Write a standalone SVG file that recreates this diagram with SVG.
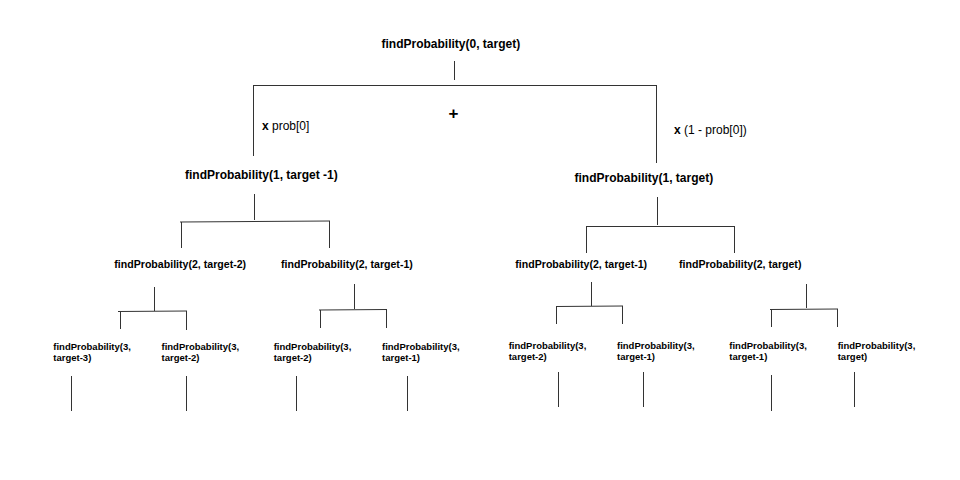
<svg xmlns="http://www.w3.org/2000/svg" width="960" height="480" viewBox="0 0 960 480">
<style>
  .bg { fill: #ffffff; }
  text { font-family: "Liberation Sans", Arial, sans-serif; fill: #000000; }
  .t0 { font-size: 12px; font-weight: bold; }
  .t1 { font-size: 12px; font-weight: bold; }
  .t2 { font-size: 10.6px; font-weight: bold; }
  .t3 { font-size: 9.5px; font-weight: bold; }
  .lbl { font-size: 12px; }
  .b { font-weight: bold; }
  .plus { font-size: 17px; font-weight: bold; }
  #connectors line { stroke: #333333; stroke-width: 1; fill: none; }
</style>
<rect class="bg" x="0" y="0" width="960" height="480"/>

<g id="connectors">
  <!-- root -->
  <line x1="454.5" y1="61" x2="454.5" y2="80"/>
  <line x1="253" y1="85.5" x2="657" y2="85.5"/>
  <line x1="253.5" y1="85.5" x2="253.5" y2="156"/>
  <line x1="656.5" y1="85.5" x2="656.5" y2="163"/>

  <!-- left L1 -->
  <line x1="254.5" y1="194" x2="254.5" y2="220"/>
  <line x1="180" y1="222" x2="330" y2="221"/>
  <line x1="181.5" y1="222" x2="181.5" y2="248"/>
  <line x1="329.5" y1="221" x2="329.5" y2="248"/>

  <!-- right L1 -->
  <line x1="657.5" y1="197" x2="657.5" y2="225"/>
  <line x1="586" y1="226.5" x2="735" y2="226.5"/>
  <line x1="586.5" y1="226.5" x2="586.5" y2="253"/>
  <line x1="734.5" y1="226.5" x2="734.5" y2="253"/>

  <!-- L2 (2, target-2) -->
  <line x1="154.5" y1="287" x2="154.5" y2="311"/>
  <line x1="118" y1="311.5" x2="187" y2="311"/>
  <line x1="120.5" y1="312" x2="120.5" y2="329"/>
  <line x1="186.5" y1="311" x2="186.5" y2="330"/>

  <!-- L2 (2, target-1) left subtree -->
  <line x1="354.5" y1="284" x2="354.5" y2="309"/>
  <line x1="319" y1="310" x2="387" y2="309.5"/>
  <line x1="320.5" y1="310" x2="320.5" y2="328"/>
  <line x1="386.5" y1="309.5" x2="386.5" y2="328"/>

  <!-- L2 (2, target-1) right subtree -->
  <line x1="591.5" y1="282" x2="591.5" y2="306"/>
  <line x1="556" y1="306.5" x2="623" y2="306"/>
  <line x1="556.5" y1="306.5" x2="556.5" y2="324"/>
  <line x1="622.5" y1="306" x2="622.5" y2="324"/>

  <!-- L2 (2, target) -->
  <line x1="806.5" y1="284" x2="806.5" y2="308"/>
  <line x1="770" y1="309.5" x2="838" y2="309"/>
  <line x1="771.5" y1="309.5" x2="771.5" y2="327"/>
  <line x1="837.5" y1="309" x2="837.5" y2="327"/>

  <!-- L3 downward stubs -->
  <line x1="71.5" y1="376" x2="71.5" y2="411"/>
  <line x1="186.5" y1="376" x2="186.5" y2="411"/>
  <line x1="296.5" y1="376" x2="296.5" y2="411"/>
  <line x1="407.5" y1="376" x2="407.5" y2="411"/>
  <line x1="558.5" y1="372" x2="558.5" y2="407"/>
  <line x1="643.5" y1="372" x2="643.5" y2="407"/>
  <line x1="771.5" y1="375" x2="771.5" y2="411"/>
  <line x1="854.5" y1="372" x2="854.5" y2="407"/>
</g>

<g id="labels">
  <text class="plus" x="453.5" y="119" text-anchor="middle">+</text>
  <text class="lbl" x="262" y="130"><tspan class="b">x</tspan> prob[0]</text>
  <text class="lbl" x="674" y="134"><tspan class="b">x</tspan> (1 - prob[0])</text>
</g>

<g id="n0"><text class="t0" x="381.5" y="48">findProbability(0, target)</text></g>

<g id="n1a"><text class="t1" x="185" y="179">findProbability(1, target -1)</text></g>
<g id="n1b"><text class="t1" x="574.5" y="182">findProbability(1, target)</text></g>

<g id="n2a"><text class="t2" x="114.3" y="267.5">findProbability(2, target-2)</text></g>
<g id="n2b"><text class="t2" x="281" y="267.5">findProbability(2, target-1)</text></g>
<g id="n2c"><text class="t2" x="515.3" y="267.5">findProbability(2, target-1)</text></g>
<g id="n2d"><text class="t2" x="679" y="267.5">findProbability(2, target)</text></g>

<g id="n3a"><text class="t3" x="53.3" y="349.5">findProbability(3,<tspan x="53.3" y="361">target-3)</tspan></text></g>
<g id="n3b"><text class="t3" x="161.5" y="349.5">findProbability(3,<tspan x="161.5" y="361">target-2)</tspan></text></g>
<g id="n3c"><text class="t3" x="273.7" y="349.5">findProbability(3,<tspan x="273.7" y="361">target-2)</tspan></text></g>
<g id="n3d"><text class="t3" x="382" y="349.5">findProbability(3,<tspan x="382" y="361">target-1)</tspan></text></g>
<g id="n3e"><text class="t3" x="508.7" y="348.5">findProbability(3,<tspan x="508.7" y="360">target-2)</tspan></text></g>
<g id="n3f"><text class="t3" x="617" y="348.5">findProbability(3,<tspan x="617" y="360">target-1)</tspan></text></g>
<g id="n3g"><text class="t3" x="729.3" y="348.5">findProbability(3,<tspan x="729.3" y="360">target-1)</tspan></text></g>
<g id="n3h"><text class="t3" x="837.7" y="348.5">findProbability(3,<tspan x="837.7" y="360">target)</tspan></text></g>
</svg>
